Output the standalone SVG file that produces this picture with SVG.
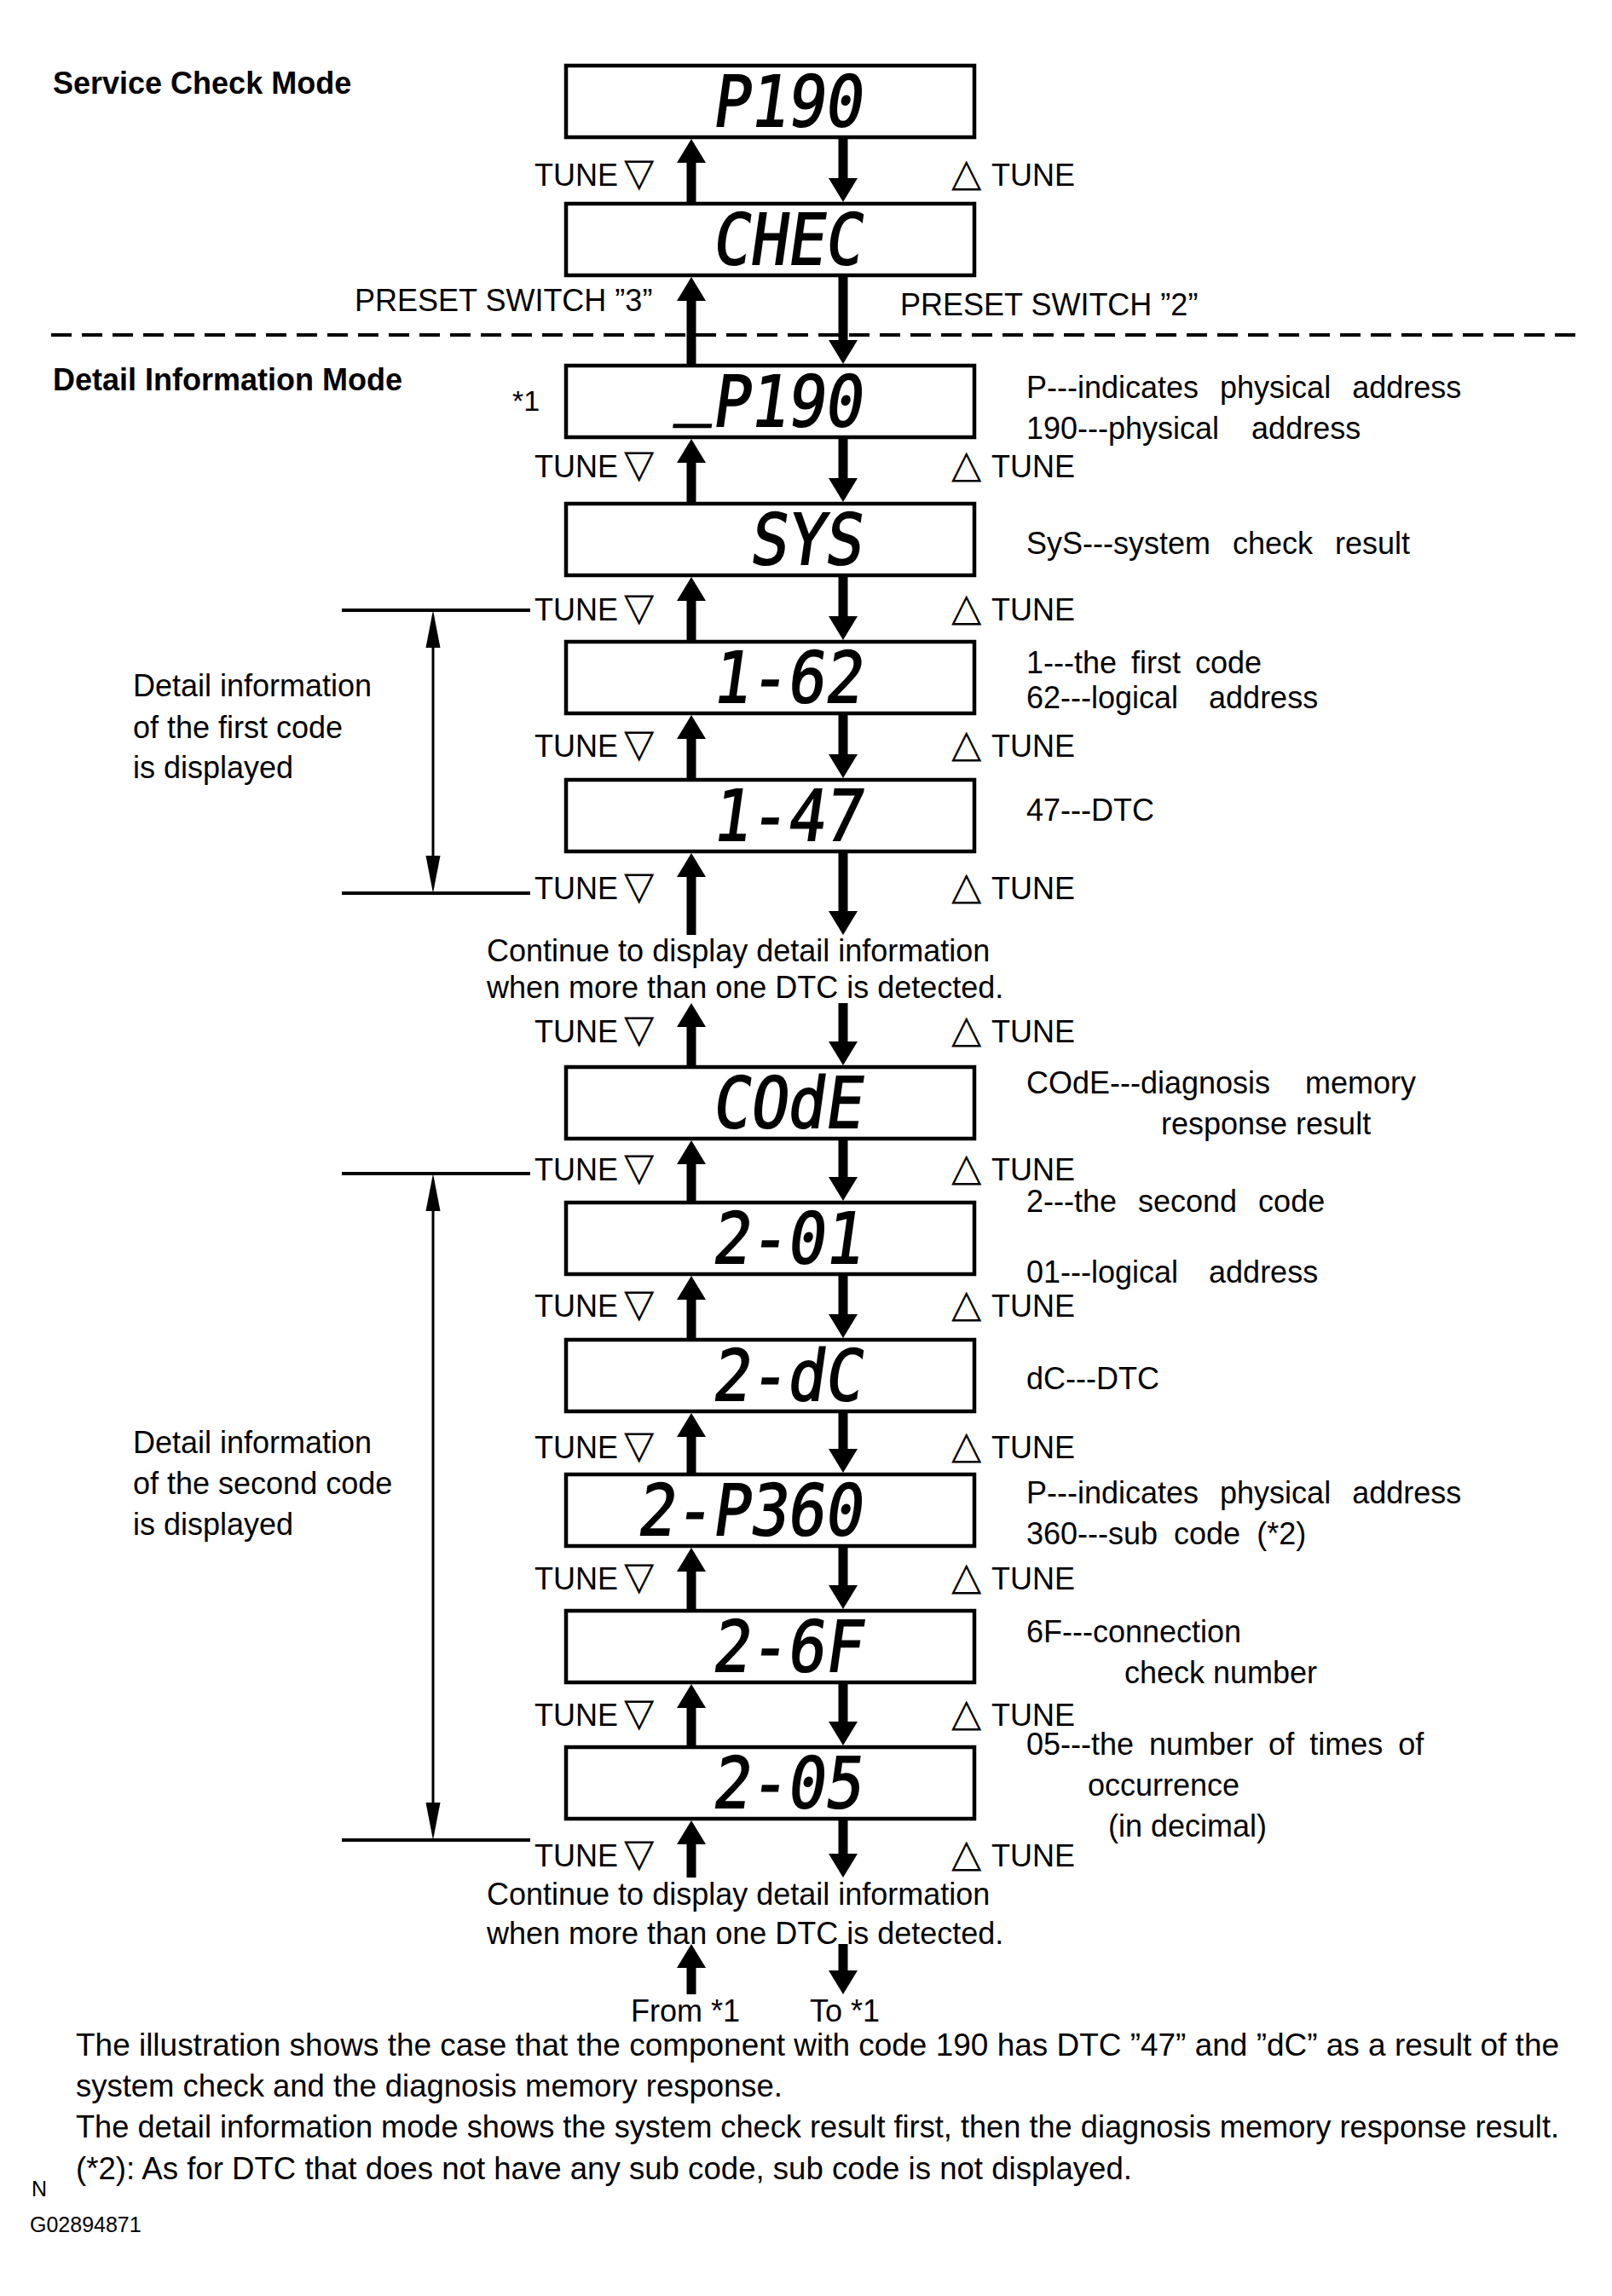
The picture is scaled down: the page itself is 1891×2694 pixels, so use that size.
<svg xmlns="http://www.w3.org/2000/svg" width="1891" height="2694" viewBox="0 0 1891 2694">
<style>
.bg{fill:#fff}
.box{fill:#fff;stroke:#000;stroke-width:4.5}
.lcd{font-family:"DejaVu Sans Mono",monospace;font-weight:normal;font-size:73px;text-anchor:end;fill:#000;stroke:#000;stroke-width:1.6}
.t{font-family:"Liberation Sans",Arial,sans-serif;font-size:36px;fill:#000}
.h{font-family:"Liberation Sans",Arial,sans-serif;font-size:36px;font-weight:bold;fill:#000}
.tri{font-family:"DejaVu Sans",sans-serif;font-size:46px}
.sh{stroke:#000;stroke-width:11;fill:none;marker-end:url(#arr)}
.br{stroke:#000;stroke-width:4;fill:none}
.dim{stroke:#000;stroke-width:3;fill:none;marker-start:url(#arrN);marker-end:url(#arrN)}
</style>
<defs>
<marker id="arr" markerUnits="userSpaceOnUse" viewBox="0 0 28 34" markerWidth="28" markerHeight="34" refX="2" refY="17" orient="auto" overflow="visible">
<path d="M0,0 L28,17 L0,34 z" fill="#000"/>
</marker>
<marker id="arrN" markerUnits="userSpaceOnUse" viewBox="0 0 44 17" markerWidth="44" markerHeight="17" refX="2" refY="8.5" orient="auto-start-reverse" overflow="visible">
<path d="M0,0 L44,8.5 L0,17 z" fill="#000"/>
</marker>
</defs>
<rect class="bg" x="0" y="0" width="1891" height="2694"/>

<g id="titles">
<text class="h" x="62" y="110">Service Check Mode</text>
<text class="h" x="62" y="458">Detail Information Mode</text>
<line x1="60" y1="393" x2="1858" y2="393" stroke="#000" stroke-width="4" stroke-dasharray="24 12"/>
</g>

<g id="box-p190"><rect class="box" x="664" y="77" width="479" height="84"/><text class="lcd" transform="translate(1010,148) skewX(-8) scale(1,1.13)">P190</text></g>
<g id="box-chec"><rect class="box" x="664" y="239" width="479" height="84"/><text class="lcd" transform="translate(1010,310) skewX(-8) scale(1,1.13)">CHEC</text></g>
<g id="box-p190-detail"><rect class="box" x="664" y="429" width="479" height="84"/><text class="lcd" transform="translate(1010,500) skewX(-8) scale(1,1.13)"><tspan dy="-16">_</tspan><tspan dy="16">P190</tspan></text></g>
<g id="box-sys"><rect class="box" x="664" y="591" width="479" height="84"/><text class="lcd" transform="translate(1010,662) skewX(-8) scale(1,1.13)">SYS</text></g>
<g id="box-1-62"><rect class="box" x="664" y="753" width="479" height="84"/><text class="lcd" transform="translate(1010,824) skewX(-8) scale(1,1.13)">1-62</text></g>
<g id="box-1-47"><rect class="box" x="664" y="915" width="479" height="84"/><text class="lcd" transform="translate(1010,986) skewX(-8) scale(1,1.13)">1-47</text></g>
<g id="box-code"><rect class="box" x="664" y="1252" width="479" height="84"/><text class="lcd" transform="translate(1010,1323) skewX(-8) scale(1,1.13)">COdE</text></g>
<g id="box-2-01"><rect class="box" x="664" y="1411" width="479" height="84"/><text class="lcd" transform="translate(1010,1482) skewX(-8) scale(1,1.13)">2-01</text></g>
<g id="box-2-dc"><rect class="box" x="664" y="1572" width="479" height="84"/><text class="lcd" transform="translate(1010,1643) skewX(-8) scale(1,1.13)">2-dC</text></g>
<g id="box-2-p360"><rect class="box" x="664" y="1730" width="479" height="84"/><text class="lcd" transform="translate(1010,1801) skewX(-8) scale(1,1.13)">2-P360</text></g>
<g id="box-2-6f"><rect class="box" x="664" y="1890" width="479" height="84"/><text class="lcd" transform="translate(1010,1961) skewX(-8) scale(1,1.13)">2-6F</text></g>
<g id="box-2-05"><rect class="box" x="664" y="2050" width="479" height="84"/><text class="lcd" transform="translate(1010,2121) skewX(-8) scale(1,1.13)">2-05</text></g>

<g id="tune-labels">
<text class="t" x="627" y="218">TUNE<tspan class="tri" x="732">▽</tspan></text>
<text class="t" x="1116" y="218"><tspan class="tri">△</tspan><tspan x="1163">TUNE</tspan></text>
<text class="t" x="627" y="560">TUNE<tspan class="tri" x="732">▽</tspan></text>
<text class="t" x="1116" y="560"><tspan class="tri">△</tspan><tspan x="1163">TUNE</tspan></text>
<text class="t" x="627" y="728">TUNE<tspan class="tri" x="732">▽</tspan></text>
<text class="t" x="1116" y="728"><tspan class="tri">△</tspan><tspan x="1163">TUNE</tspan></text>
<text class="t" x="627" y="888">TUNE<tspan class="tri" x="732">▽</tspan></text>
<text class="t" x="1116" y="888"><tspan class="tri">△</tspan><tspan x="1163">TUNE</tspan></text>
<text class="t" x="627" y="1055">TUNE<tspan class="tri" x="732">▽</tspan></text>
<text class="t" x="1116" y="1055"><tspan class="tri">△</tspan><tspan x="1163">TUNE</tspan></text>
<text class="t" x="627" y="1223">TUNE<tspan class="tri" x="732">▽</tspan></text>
<text class="t" x="1116" y="1223"><tspan class="tri">△</tspan><tspan x="1163">TUNE</tspan></text>
<text class="t" x="627" y="1385">TUNE<tspan class="tri" x="732">▽</tspan></text>
<text class="t" x="1116" y="1385"><tspan class="tri">△</tspan><tspan x="1163">TUNE</tspan></text>
<text class="t" x="627" y="1545">TUNE<tspan class="tri" x="732">▽</tspan></text>
<text class="t" x="1116" y="1545"><tspan class="tri">△</tspan><tspan x="1163">TUNE</tspan></text>
<text class="t" x="627" y="1711">TUNE<tspan class="tri" x="732">▽</tspan></text>
<text class="t" x="1116" y="1711"><tspan class="tri">△</tspan><tspan x="1163">TUNE</tspan></text>
<text class="t" x="627" y="1865">TUNE<tspan class="tri" x="732">▽</tspan></text>
<text class="t" x="1116" y="1865"><tspan class="tri">△</tspan><tspan x="1163">TUNE</tspan></text>
<text class="t" x="627" y="2025">TUNE<tspan class="tri" x="732">▽</tspan></text>
<text class="t" x="1116" y="2025"><tspan class="tri">△</tspan><tspan x="1163">TUNE</tspan></text>
<text class="t" x="627" y="2190">TUNE<tspan class="tri" x="732">▽</tspan></text>
<text class="t" x="1116" y="2190"><tspan class="tri">△</tspan><tspan x="1163">TUNE</tspan></text>
<text class="t" x="416" y="365">PRESET SWITCH ”3”</text>
<text class="t" x="1056" y="370">PRESET SWITCH ”2”</text>
<text class="t" x="601" y="482" style="font-size:34px">*1</text>
</g>

<g id="notes-right">
<text class="t" x="1204" y="467" word-spacing="15">P---indicates physical address</text>
<text class="t" x="1204" y="515" word-spacing="28">190---physical address</text>
<text class="t" x="1204" y="650" word-spacing="16">SyS---system check result</text>
<text class="t" x="1204" y="790" word-spacing="7">1---the first code</text>
<text class="t" x="1204" y="831" word-spacing="26">62---logical address</text>
<text class="t" x="1204" y="963">47---DTC</text>
<text class="t" x="1204" y="1283" word-spacing="31">COdE---diagnosis memory</text>
<text class="t" x="1362" y="1331">response result</text>
<text class="t" x="1204" y="1422" word-spacing="15">2---the second code</text>
<text class="t" x="1204" y="1505" word-spacing="26">01---logical address</text>
<text class="t" x="1204" y="1630">dC---DTC</text>
<text class="t" x="1204" y="1764" word-spacing="15">P---indicates physical address</text>
<text class="t" x="1204" y="1812" word-spacing="9">360---sub code (*2)</text>
<text class="t" x="1204" y="1927">6F---connection</text>
<text class="t" x="1319" y="1975">check number</text>
<text class="t" x="1204" y="2059" word-spacing="8">05---the number of times of</text>
<text class="t" x="1276" y="2107">occurrence</text>
<text class="t" x="1300" y="2155">(in decimal)</text>
</g>

<g id="bracket-first">
<line class="br" x1="401" y1="716" x2="622" y2="716"/>
<line class="br" x1="401" y1="1048" x2="622" y2="1048"/>
<line class="dim" x1="508" y1="758" x2="508" y2="1006"/>
<text class="t" x="156" y="817">Detail information</text>
<text class="t" x="156" y="866">of the first code</text>
<text class="t" x="156" y="913">is displayed</text>
</g>
<g id="bracket-second">
<line class="br" x1="401" y1="1377" x2="622" y2="1377"/>
<line class="br" x1="401" y1="2159" x2="622" y2="2159"/>
<line class="dim" x1="508" y1="1419" x2="508" y2="2117"/>
<text class="t" x="156" y="1705">Detail information</text>
<text class="t" x="156" y="1753">of the second code</text>
<text class="t" x="156" y="1801">is displayed</text>
</g>

<g id="continue-texts">
<text class="t" x="571" y="1128">Continue to display detail information</text>
<text class="t" x="571" y="1171">when more than one DTC is detected.</text>
<text class="t" x="571" y="2235">Continue to display detail information</text>
<text class="t" x="571" y="2281">when more than one DTC is detected.</text>
<text class="t" x="740" y="2372">From *1</text>
<text class="t" x="950" y="2372">To *1</text>
</g>

<g id="connectors">
<line class="sh" x1="811" y1="237" x2="811" y2="189"/>
<line class="sh" x1="989" y1="163" x2="989" y2="211"/>
<line class="sh" x1="811" y1="427" x2="811" y2="351"/>
<line class="sh" x1="989" y1="325" x2="989" y2="401"/>
<line class="sh" x1="811" y1="589" x2="811" y2="541"/>
<line class="sh" x1="989" y1="515" x2="989" y2="563"/>
<line class="sh" x1="811" y1="751" x2="811" y2="703"/>
<line class="sh" x1="989" y1="677" x2="989" y2="725"/>
<line class="sh" x1="811" y1="913" x2="811" y2="865"/>
<line class="sh" x1="989" y1="839" x2="989" y2="887"/>
<line class="sh" x1="811" y1="1097" x2="811" y2="1027"/>
<line class="sh" x1="989" y1="1001" x2="989" y2="1071"/>
<line class="sh" x1="811" y1="1250" x2="811" y2="1203"/>
<line class="sh" x1="989" y1="1177" x2="989" y2="1224"/>
<line class="sh" x1="811" y1="1409" x2="811" y2="1364"/>
<line class="sh" x1="989" y1="1338" x2="989" y2="1383"/>
<line class="sh" x1="811" y1="1570" x2="811" y2="1523"/>
<line class="sh" x1="989" y1="1497" x2="989" y2="1544"/>
<line class="sh" x1="811" y1="1728" x2="811" y2="1684"/>
<line class="sh" x1="989" y1="1658" x2="989" y2="1702"/>
<line class="sh" x1="811" y1="1888" x2="811" y2="1842"/>
<line class="sh" x1="989" y1="1816" x2="989" y2="1862"/>
<line class="sh" x1="811" y1="2048" x2="811" y2="2002"/>
<line class="sh" x1="989" y1="1976" x2="989" y2="2022"/>
<line class="sh" x1="811" y1="2203" x2="811" y2="2162"/>
<line class="sh" x1="989" y1="2136" x2="989" y2="2177"/>
<line class="sh" x1="811" y1="2340" x2="811" y2="2307"/>
<line class="sh" x1="989" y1="2281" x2="989" y2="2314"/>
</g>

<g id="footnotes">
<text class="t" x="89" y="2412" textLength="1740" lengthAdjust="spacingAndGlyphs">The illustration shows the case that the component with code 190 has DTC ”47”  and ”dC” as a result of the</text>
<text class="t" x="89" y="2460" textLength="829" lengthAdjust="spacingAndGlyphs">system check and the diagnosis memory response.</text>
<text class="t" x="89" y="2508" textLength="1740" lengthAdjust="spacingAndGlyphs">The detail information mode shows the system check result first, then the diagnosis memory response result.</text>
<text class="t" x="89" y="2557" textLength="1239" lengthAdjust="spacingAndGlyphs">(*2): As for DTC that does not have any sub code, sub code is not displayed.</text>
<text class="t" x="37" y="2577" style="font-size:25px">N</text>
<text class="t" x="35" y="2619" style="font-size:25px">G02894871</text>
</g>
</svg>
